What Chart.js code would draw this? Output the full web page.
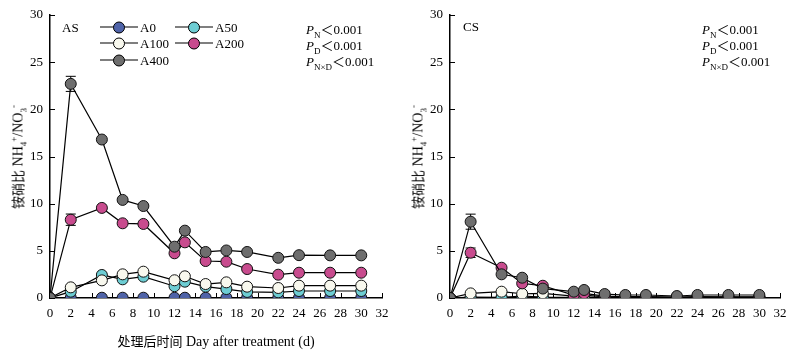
<!DOCTYPE html>
<html>
<head>
<meta charset="utf-8">
<script src="https://cdn.jsdelivr.net/npm/chart.js@4.4.0/dist/chart.umd.min.js"></script>
<style>
body { margin: 0; background: #fff; }
#wrap { position: relative; width: 800px; height: 354px; font-family: "Liberation Serif", "Noto Sans CJK SC", serif; color: #000; }
.panel { position: absolute; top: 0; width: 400px; height: 354px; }
.txt { position: absolute; white-space: nowrap; font-size: 13px; line-height: 13px; transform: translateY(-50%); }
.txt sub, .txt sup { font-size: 9px; line-height: 0; }
.ytitle { position: absolute; white-space: nowrap; font-size: 14px; transform: translate(-50%, -50%) rotate(-90deg); }
.ytitle sub, .ytitle sup { font-size: 9px; line-height: 0; }
.xtitle { position: absolute; white-space: nowrap; font-size: 14px; transform: translate(-50%, -50%); }
.cjk { font-family: "Noto Sans CJK SC", sans-serif; font-size: 13px; }
.sym { position: absolute; width: 38px; height: 11px; transform: translateY(-50%); }
.sym::before { content: ""; position: absolute; left: 0; right: 0; top: 5px; border-top: 1px solid #000; }
.sym span { position: absolute; left: 13px; top: 0; width: 10px; height: 10px; border: 1px solid #000; border-radius: 50%; box-sizing: content-box; }
</style>
</head>
<body>
<div id="wrap">
  <div class="panel" style="left:0">
    <canvas id="chartAS" width="400" height="354"></canvas>
  </div>
  <div class="panel" style="left:400px">
    <canvas id="chartCS" width="400" height="354"></canvas>
  </div>
</div>
<script>
const days = [0, 2, 5, 7, 9, 12, 13, 15, 17, 19, 22, 24, 27, 30];
const seriesNames = ['A0', 'A50', 'A100', 'A200', 'A400'];
const seriesColors = ['#4f63a8', '#6dcdd3', '#f8f8ee', '#c84b8e', '#6e6e6e'];

const xTicks = [0, 2, 4, 6, 8, 10, 12, 14, 16, 18, 20, 22, 24, 26, 28, 30, 32];
const yTicks = [0, 5, 10, 15, 20, 25, 30];

// AS soil
const asA0   = [0, 0.03, 0.03, 0.03, 0.03, 0.03, 0.03, 0.03, 0.03, 0.03, 0.03, 0.03, 0.03, 0.03];
const asA50  = [0, 0.67, 2.44, 1.98, 2.26, 1.25, 1.73, 1.2, 0.95, 0.64, 0.6, 0.74, 0.74, 0.74];
const asA100 = [0, 1.13, 1.87, 2.51, 2.79, 1.88, 2.3, 1.48, 1.66, 1.2, 1.06, 1.31, 1.31, 1.31];
const asA200 = [0, 8.3, 9.55, 7.92, 7.85, 4.74, 5.9, 3.92, 3.85, 3.07, 2.47, 2.68, 2.68, 2.68];
const asA400 = [0, 22.7, 16.8, 10.4, 9.75, 5.44, 7.14, 4.88, 5.04, 4.88, 4.26, 4.54, 4.52, 4.52];
const asErrA200 = [0, 0.6, 0, 0, 0, 0, 0, 0, 0, 0, 0, 0, 0, 0];
const asErrA400 = [0, 0.8, 0, 0, 0, 0, 0, 0, 0, 0, 0, 0, 0, 0];

// CS soil
const csA0   = [0, 0.02, 0.02, 0.02, 0.02, 0.02, 0.02, 0.02, 0.02, 0.02, 0.02, 0.02, 0.02, 0.02];
const csA50  = [0, 0.1, 0.07, 0.21, 0.1, 0.08, 0.1, 0.05, 0.05, 0.05, 0.04, 0.05, 0.05, 0.05];
const csA100 = [0, 0.49, 0.67, 0.45, 0.5, 0.2, 0.3, 0.12, 0.1, 0.1, 0.08, 0.1, 0.1, 0.1];
const csA200 = [0, 4.8, 3.21, 1.55, 1.3, 0.3, 0.5, 0.2, 0.15, 0.15, 0.1, 0.15, 0.12, 0.12];
const csA400 = [0, 8.09, 2.51, 2.15, 1.0, 0.67, 0.85, 0.42, 0.32, 0.32, 0.21, 0.32, 0.32, 0.32];
const csErrA200 = [0, 0.5, 0, 0, 0, 0, 0, 0, 0, 0, 0, 0, 0, 0];
const csErrA400 = [0, 0.8, 0, 0, 0, 0, 0, 0, 0, 0, 0, 0, 0, 0];

const serif = '"Liberation Serif", "Times New Roman", serif';

// inward tick marks + error bars, drawn under the points
const innerTicks = {
    id: 'innerTicks',
    beforeDatasetsDraw(chart, args, opts) {
        const { ctx, chartArea } = chart;
        const x = chart.scales.x, y = chart.scales.y;
        ctx.save();
        ctx.strokeStyle = '#000';
        ctx.lineWidth = 1;
        xTicks.forEach(v => {
            const px = Math.round(x.getPixelForValue(v)) + 0.5;
            ctx.beginPath();
            ctx.moveTo(px, chartArea.bottom);
            ctx.lineTo(px, chartArea.bottom - 5);
            ctx.stroke();
        });
        yTicks.forEach(v => {
            const py = Math.round(y.getPixelForValue(v)) + 0.5;
            ctx.beginPath();
            ctx.moveTo(chartArea.left, py);
            ctx.lineTo(chartArea.left + 5, py);
            ctx.stroke();
        });
        (opts.errors || []).forEach(err => {
            const vals = chart.data.datasets[err.ds].data;
            err.values.forEach((e, i) => {
                if (!e) return;
                const px = x.getPixelForValue(days[i]);
                const top = y.getPixelForValue(vals[i].y + e);
                const bot = y.getPixelForValue(vals[i].y - e);
                ctx.beginPath();
                ctx.moveTo(px, top); ctx.lineTo(px, bot);
                ctx.moveTo(px - 5, top); ctx.lineTo(px + 5, top);
                ctx.moveTo(px - 5, bot); ctx.lineTo(px + 5, bot);
                ctx.stroke();
            });
        });
        ctx.restore();
    }
};

function makeChart(id, series, errors, rightPad) {
    const datasets = series.map((vals, i) => ({
        label: seriesNames[i],
        data: vals,
        order: 5 - i,
        borderColor: '#000',
        borderWidth: 1.2,
        backgroundColor: seriesColors[i],
        pointBackgroundColor: seriesColors[i],
        pointBorderColor: '#111',
        pointBorderWidth: 1,
        pointRadius: 5.5,
        tension: 0
    }));
    return new Chart(document.getElementById(id), {
        type: 'line',
        data: { datasets: datasets },
        options: {
            responsive: false,
            animation: false,
            layout: { padding: { top: 15, right: rightPad, left: 0, bottom: 0 } },
            plugins: {
                legend: { display: false },
                tooltip: { enabled: false },
                innerTicks: { errors: errors }
            },
            scales: {
                x: {
                    type: 'linear',
                    min: 0, max: 32,
                    afterBuildTicks: s => { s.ticks = xTicks.map(v => ({ value: v })); },
                    afterFit: s => { s.height = 56; },
                    grid: { display: false, drawTicks: false },
                    border: { display: true, color: '#000', width: 1.5 },
                    ticks: { padding: 8, color: '#000', font: { family: serif, size: 13 }, maxRotation: 0, autoSkip: false }
                },
                y: {
                    min: 0, max: 30,
                    afterBuildTicks: s => { s.ticks = yTicks.map(v => ({ value: v })); },
                    afterFit: s => { s.width = 50; },
                    grid: { display: false, drawTicks: false },
                    border: { display: true, color: '#000', width: 1.5 },
                    ticks: { padding: 7, color: '#000', font: { family: serif, size: 13 } }
                }
            }
        },
        plugins: [innerTicks]
    });
}

// line data as {x,y} so the x scale is linear
const toXY = arr => arr.map((v, i) => ({ x: days[i], y: v }));

makeChart('chartAS', [asA0, asA50, asA100, asA200, asA400].map(toXY),
    [{ ds: 3, values: asErrA200 }, { ds: 4, values: asErrA400 }], 18);
makeChart('chartCS', [csA0, csA50, csA100, csA200, csA400].map(toXY),
    [{ ds: 3, values: csErrA200 }, { ds: 4, values: csErrA400 }], 20);

// text overlays
const wrap = document.getElementById('wrap');
function addHtml(cls, left, top, html) {
    const d = document.createElement('div');
    d.className = cls;
    d.style.left = left + 'px';
    d.style.top = top + 'px';
    d.innerHTML = html;
    wrap.appendChild(d);
    return d;
}

const yTitle = '<span class="cjk">铵硝比</span> NH<sub>4</sub><sup>+</sup>/NO<sub>3</sub><sup>-</sup>';
const xTitle = '<span class="cjk">处理后时间</span> Day after treatment (d)';
const pLines = [
    '<i>P</i><sub>N</sub><span class="cjk">＜</span>0.001',
    '<i>P</i><sub>D</sub><span class="cjk">＜</span>0.001',
    '<i>P</i><sub>N×D</sub><span class="cjk">＜</span>0.001'
];
const pRows = [29, 45, 61];

[0, 400].forEach((off, k) => {
    addHtml('ytitle', off + 17, 157, yTitle);
    addHtml('xtitle', off + (k === 0 ? 216 : 615), 340, xTitle);
    pLines.forEach((p, i) => addHtml('txt', off + (k === 0 ? 306 : 302), pRows[i], p));
});
addHtml('txt', 62, 27, 'AS');
addHtml('txt', 463, 26, 'CS');

// legend on the AS panel
const legendPos = [[100, 27], [175, 27], [100, 43], [175, 43], [100, 60]];
seriesNames.forEach((name, i) => {
    const [lx, ly] = legendPos[i];
    const s = addHtml('sym', lx, ly, '<span></span>');
    s.querySelector('span').style.background = seriesColors[i];
    addHtml('txt', lx + 40, ly, name);
});
</script>
</body>
</html>
